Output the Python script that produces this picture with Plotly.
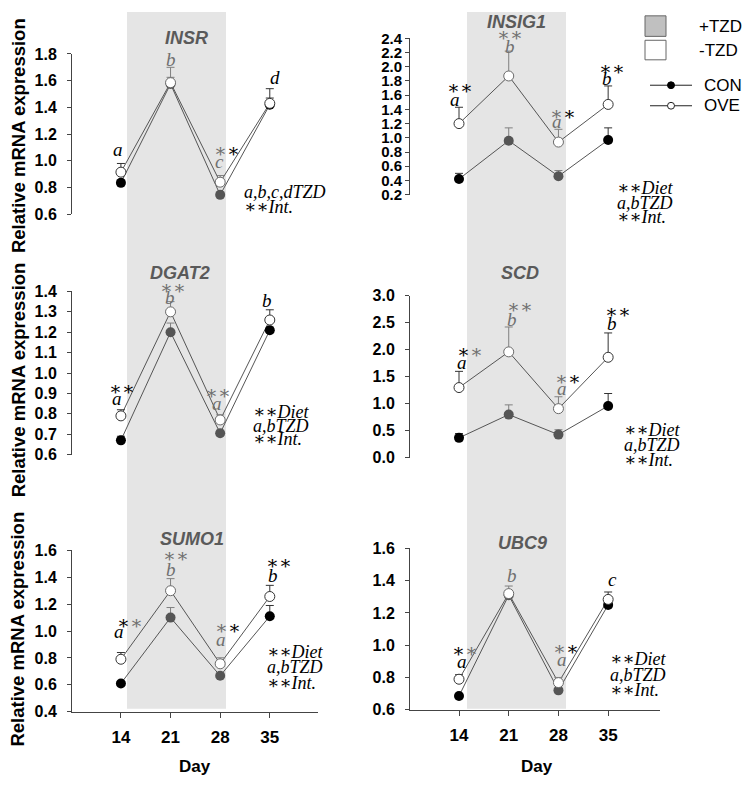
import plotly.graph_objects as go

# ---------------- data ----------------
days = [14, 21, 28, 35]
day_labels = ["14", "21", "28", "35"]

insr_con = [0.835, 1.575, 0.745, 1.42]
insr_con_err = [0.02, 0.05, 0.02, 0.05]
insr_ove = [0.915, 1.585, 0.84, 1.43]
insr_ove_err = [0.065, 0.115, 0.05, 0.11]

insig1_con = [0.42, 0.96, 0.46, 0.97]
insig1_con_err = [0.08, 0.18, 0.08, 0.17]
insig1_ove = [1.20, 1.87, 0.94, 1.47]
insig1_ove_err = [0.23, 0.35, 0.18, 0.26]

dgat2_con = [0.67, 1.20, 0.705, 1.21]
dgat2_con_err = [0.02, 0.045, 0.015, 0.015]
dgat2_ove = [0.79, 1.30, 0.77, 1.26]
dgat2_ove_err = [0.03, 0.05, 0.025, 0.05]

scd_con = [0.37, 0.80, 0.43, 0.96]
scd_con_err = [0.08, 0.18, 0.09, 0.23]
scd_ove = [1.30, 1.96, 0.91, 1.86]
scd_ove_err = [0.30, 0.46, 0.22, 0.45]

sumo1_con = [0.61, 1.10, 0.667, 1.11]
sumo1_con_err = [0.015, 0.075, 0.015, 0.08]
sumo1_ove = [0.79, 1.30, 0.756, 1.257]
sumo1_ove_err = [0.05, 0.09, 0.045, 0.083]

ubc9_con = [0.685, 1.31, 0.72, 1.25]
ubc9_con_err = [0.015, 0.03, 0.01, 0.02]
ubc9_ove = [0.789, 1.32, 0.768, 1.284]
ubc9_ove_err = [0.028, 0.047, 0.032, 0.046]

gene_names = ["INSR", "INSIG1", "DGAT2", "SCD", "SUMO1", "UBC9"]
y_ticks = [
    [0.6, 0.8, 1.0, 1.2, 1.4, 1.6, 1.8],
    [0.2, 0.4, 0.6, 0.8, 1.0, 1.2, 1.4, 1.6, 1.8, 2.0, 2.2, 2.4],
    [0.6, 0.7, 0.8, 0.9, 1.0, 1.1, 1.2, 1.3, 1.4],
    [0.0, 0.5, 1.0, 1.5, 2.0, 2.5, 3.0],
    [0.4, 0.6, 0.8, 1.0, 1.2, 1.4, 1.6],
    [0.6, 0.8, 1.0, 1.2, 1.4, 1.6],
]

series = [
    (insr_con, insr_con_err, insr_ove, insr_ove_err),
    (insig1_con, insig1_con_err, insig1_ove, insig1_ove_err),
    (dgat2_con, dgat2_con_err, dgat2_ove, dgat2_ove_err),
    (scd_con, scd_con_err, scd_ove, scd_ove_err),
    (sumo1_con, sumo1_con_err, sumo1_ove, sumo1_ove_err),
    (ubc9_con, ubc9_con_err, ubc9_ove, ubc9_ove_err),
]

# ---------------- layout helpers ----------------
W, H = 750, 792
def px(x): return x / W
def py(y): return 1 - y / H

GREY = "#707070"
SERIF = "Liberation Serif, DejaVu Serif, Times New Roman, serif"
SANS = "Liberation Sans, Arial, sans-serif"
STAR = "\u2217"

col_x = [(72, 318), (410, 660)]
row_y = [[(46, 210), (30, 190)], [(289, 456), (293.3, 459.3)], [(554, 719), (552, 717)]]
x_ranges = [[7.1, 41.8], [7.1, 42.3]]
tick_font_sizes = [16, 15, 16, 16, 16, 16]
label_standoff = [7, 0, 7, 7, 7, 7]

fig = go.Figure()
layout = dict(width=W, height=H, autosize=False, margin=dict(l=0, r=0, t=0, b=0),
              paper_bgcolor="white", plot_bgcolor="rgba(0,0,0,0)", showlegend=False)

out_idx = [0, 3]
in_idx = [1, 2]

for p in range(6):
    r, c = divmod(p, 2)
    n = "" if p == 0 else str(p + 1)
    xa, ya = "x" + n, "y" + n
    xl, xr = col_x[c]
    yt, yb = row_y[r][c]
    ticks = y_ticks[p]
    bottom = (r == 2)
    layout["xaxis" + n] = dict(
        domain=[px(xl), px(xr)], range=x_ranges[c], anchor=ya,
        visible=bottom, showgrid=False, zeroline=False,
        showline=True, linecolor="#444", linewidth=1,
        ticks="outside", ticklen=5, tickcolor="#444",
        tickvals=days, ticktext=day_labels, ticklabelstandoff=5,
        tickfont=dict(family=SANS, size=17, color="black", weight="bold"),
    )
    layout["yaxis" + n] = dict(
        domain=[py(yb), py(yt)], range=[ticks[0], ticks[-1]], anchor=xa,
        showgrid=False, zeroline=False, showline=True, linecolor="#444", linewidth=1,
        ticks="outside", ticklen=4, tickcolor="#444",
        tickvals=ticks, ticktext=[f"{t:.1f}" for t in ticks],
        ticklabelstandoff=label_standoff[p],
        tickfont=dict(family=SANS, size=tick_font_sizes[p], color="black", weight="bold"),
    )

    con, con_err, ove, ove_err = series[p]
    for vals in (con, ove):
        fig.add_trace(go.Scatter(x=days, y=vals, mode="lines", xaxis=xa, yaxis=ya,
                                 line=dict(color="#555", width=1), hoverinfo="skip"))
    for idx, mcol, ecol in ((out_idx, "black", "#333"), (in_idx, "#555", "#808080")):
        fig.add_trace(go.Scatter(
            x=[days[i] for i in idx], y=[con[i] for i in idx], mode="markers",
            xaxis=xa, yaxis=ya,
            marker=dict(size=10, color=mcol, line=dict(width=0)),
            error_y=dict(type="data", array=[con_err[i] for i in idx], arrayminus=[0, 0],
                         symmetric=False, color=ecol, thickness=1, width=4)))
    for idx, ocol, ecol in ((out_idx, "#333", "#333"), (in_idx, "#6a6a6a", "#808080")):
        fig.add_trace(go.Scatter(
            x=[days[i] for i in idx], y=[ove[i] for i in idx], mode="markers",
            xaxis=xa, yaxis=ya,
            marker=dict(size=10, color="white", line=dict(width=1, color=ocol)),
            error_y=dict(type="data", array=[ove_err[i] for i in idx], arrayminus=[0, 0],
                         symmetric=False, color=ecol, thickness=1, width=4)))

# ---------------- shapes (band + legend) ----------------
shapes = [
    dict(type="rect", xref="paper", yref="paper", x0=px(127), x1=px(226), y0=py(716), y1=py(3),
         fillcolor="#e5e5e5", line=dict(width=0), layer="below"),
    dict(type="rect", xref="paper", yref="paper", x0=px(467), x1=px(566), y0=py(716), y1=py(3),
         fillcolor="#e5e5e5", line=dict(width=0), layer="below"),
    dict(type="rect", xref="paper", yref="paper", x0=px(645), x1=px(666), y0=py(28), y1=py(7),
         fillcolor="#c0c0c0", line=dict(width=1, color="#666")),
    dict(type="rect", xref="paper", yref="paper", x0=px(645), x1=px(666), y0=py(52), y1=py(32),
         fillcolor="white", line=dict(width=1, color="#666")),
    dict(type="line", xref="paper", yref="paper", x0=px(650), x1=px(692), y0=py(78), y1=py(78),
         line=dict(width=1, color="#222")),
    dict(type="line", xref="paper", yref="paper", x0=px(650), x1=px(692), y0=py(99), y1=py(99),
         line=dict(width=1, color="#222")),
    dict(type="circle", xref="paper", yref="paper", x0=px(667.5), x1=px(674.5), y0=py(81.5), y1=py(74.5),
         fillcolor="black", line=dict(width=1, color="black")),
    dict(type="circle", xref="paper", yref="paper", x0=px(667.5), x1=px(674.5), y0=py(102.5), y1=py(95.5),
         fillcolor="white", line=dict(width=1, color="#222")),
]
layout["shapes"] = shapes

# ---------------- annotations ----------------
ann = []
def ptext(x, y, text, size=17, anchor="center", angle=0, color="black", family=SANS):
    ann.append(dict(xref="paper", yref="paper", x=px(x), y=py(y), text=text, showarrow=False,
                    xanchor=anchor, yanchor="middle", textangle=angle,
                    font=dict(family=family, size=size, color=color)))

# legend texts
ptext(697, 18, "+TZD", anchor="left")
ptext(697, 42, "-TZD", anchor="left")
ptext(702, 78, "CON", anchor="left")
ptext(702, 99, "OVE", anchor="left")

# axis titles
for yc in (130, 380, 635):
    ptext(18, yc, "<b>Relative mRNA expression</b>", size=18.5, angle=-90)
ptext(195, 775, "<b>Day</b>", size=17)
ptext(537, 775, "<b>Day</b>", size=17)

# gene titles
title_pos = [(186, 30), (516, 13), (180, 270), (520, 270), (192, 542), (522, 546)]
for g, (tx, ty) in zip(gene_names, title_pos):
    ptext(tx, ty, f"<b><i>{g}</i></b>", size=18, color="#5a5a5a")

def split(first, second):
    return f"<span style='color:{first}'>{STAR}</span><span style='color:{second}'>{STAR}</span>"

SS = STAR + STAR
SHIFT = {"a": 1, "c": 1}
def note(p, x, y, text, color="black", anchor="center", kind=None, size=19):
    n = "" if p == 0 else str(p + 1)
    lo, hi = y_ticks[p][0], y_ticks[p][-1]
    ann.append(dict(xref="x" + n, yref="y" + n + " domain", x=x, y=(y - lo) / (hi - lo),
                    text=f"<i>{text}</i>", showarrow=False,
                    xanchor=anchor, yanchor="middle", yshift=SHIFT.get(kind, 0),
                    font=dict(family=SERIF, size=size, color=color)))

def notes_block(p, x, ys, lines):
    for yv, t in zip(ys, lines):
        note(p, x, yv, t, anchor="left", size=18)

NOTE3 = [SS + "Diet", "a,bTZD", SS + "Int."]

# INSR
note(0, 13.6, 1.076, "a", kind="a")
note(0, 21.1, 1.76, "b", GREY)
note(0, 28.9, 1.076, split(GREY, "black"))
note(0, 27.95, 0.99, "c", GREY, kind="c")
note(0, 35.7, 1.62, "d")
notes_block(0, 31.05, [0.765, 0.655], ["a,b,c,dTZD", SS + "Int."])
# INSIG1
note(1, 14.1, 1.71, SS)
note(1, 13.4, 1.53, "a", kind="a")
note(1, 21.2, 2.455, SS, GREY)
note(1, 21.2, 2.29, "b", GREY)
note(1, 28.7, 1.345, split(GREY, "black"))
note(1, 27.8, 1.21, "a", GREY, kind="a")
note(1, 35.6, 1.98, SS)
note(1, 34.9, 1.83, "b")
notes_block(1, 36.0, [0.295, 0.089, -0.117], NOTE3)
# DGAT2
note(2, 14.15, 0.925, SS)
note(2, 13.4, 0.869, "a", kind="a")
note(2, 21.3, 1.42, SS, GREY)
note(2, 20.9, 1.368, "b", GREY)
note(2, 27.7, 0.904, SS, GREY)
note(2, 27.6, 0.845, "a", GREY, kind="a")
note(2, 34.6, 1.357, "b")
notes_block(2, 32.4, [0.808, 0.741, 0.677], NOTE3)
# SCD
note(3, 15.55, 1.976, split("black", GREY))
note(3, 14.4, 1.747, "a", kind="a")
note(3, 22.6, 2.79, SS, GREY)
note(3, 21.5, 2.566, "b", GREY)
note(3, 29.4, 1.464, split(GREY, "black"))
note(3, 28.5, 1.265, "a", GREY, kind="a")
note(3, 36.4, 2.70, SS)
note(3, 35.6, 2.476, "b")
notes_block(3, 37.0, [0.518, 0.229, -0.04], NOTE3)
# SUMO1
note(4, 15.3, 1.067, split("black", GREY))
note(4, 13.7, 0.987, "a", kind="a")
note(4, 21.8, 1.56, SS, GREY)
note(4, 21.0, 1.46, "b", GREY)
note(4, 29.1, 1.023, split(GREY, "black"))
note(4, 28.1, 0.93, "a", GREY, kind="a")
note(4, 36.3, 1.508, SS)
note(4, 35.4, 1.41, "b")
notes_block(4, 34.3, [0.841, 0.732, 0.611], NOTE3)
# UBC9
note(5, 14.85, 0.969, split("black", GREY))
note(5, 14.4, 0.894, "a", kind="a")
note(5, 21.5, 1.43, "b", GREY)
note(5, 29.0, 0.981, split(GREY, "black"))
note(5, 28.5, 0.904, "a", GREY, kind="a")
note(5, 35.6, 1.40, "c", kind="c")
notes_block(5, 35.0, [0.914, 0.813, 0.722], NOTE3)

layout["annotations"] = ann
fig.update_layout(**layout)

page_css = (
    "var s=document.createElement('style');"
    "s.textContent='html,body{margin:0!important;padding:0!important;overflow:hidden;"
    "height:792px;width:750px;}body>div{margin:0;padding:0;height:792px;line-height:0;}';"
    "document.head.appendChild(s);"
)
fig.write_html("out.html", config={"displayModeBar": False, "staticPlot": True},
               post_script=page_css)
